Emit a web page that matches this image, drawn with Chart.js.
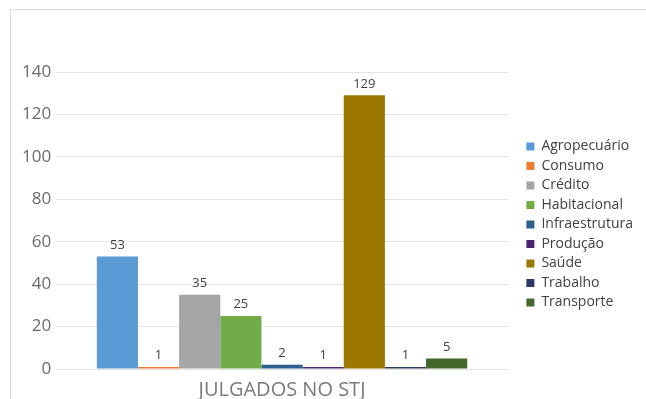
<!DOCTYPE html>
<html>
<head>
<meta charset="utf-8">
<script src="https://cdn.jsdelivr.net/npm/chart.js@4"></script>
<style>
  html, body { margin: 0; padding: 0; background: #fff; }
  body { width: 646px; height: 399px; overflow: hidden; position: relative; }
  .frame { position: absolute; left: 10px; top: 9px; width: 700px; height: 500px; border: 1px solid #dcdcdc; }
  .wrap { position: absolute; left: 0; top: 0; width: 646px; height: 399px; }
</style>
</head>
<body>
<div class="frame"></div>
<div class="wrap"><canvas id="myChart" width="646" height="399"></canvas></div>
<script>
const category = ["JULGADOS NO STJ"];
const seriesNames = ["Agropecuário", "Consumo", "Crédito", "Habitacional", "Infraestrutura", "Produção", "Saúde", "Trabalho", "Transporte"];
const seriesValues = [53, 1, 35, 25, 2, 1, 129, 1, 5];
const seriesColors = ["#5b9bd5", "#ed7d31", "#a5a5a5", "#70ad47", "#2a5f8f", "#4b2470", "#9c7800", "#2b3a66", "#43682b"];
const yTicks = [0, 20, 40, 60, 80, 100, 120, 140];

// value labels drawn above each bar
const valueLabels = {
  id: "valueLabels",
  afterDatasetsDraw(chart) {
    let ctx = chart.ctx;
    ctx.save();
    ctx.font = "13px 'Open Sans'";
    ctx.fillStyle = "#404040";
    ctx.textAlign = "center";
    ctx.textBaseline = "bottom";
    chart.data.datasets.forEach((ds, i) => {
      let bar = chart.getDatasetMeta(i).data[0];
      ctx.fillText(ds.data[0], bar.x, bar.y - 5);
    });
    ctx.restore();
  }
};

// nudge the legend box a bit up and to the right
const legendShift = {
  id: "legendShift",
  afterLayout(chart) {
    let lg = chart.legend;
    lg.top -= 13; lg.bottom -= 13;
    lg.left += 13; lg.right += 13;
  }
};

let datasets = seriesNames.map((name, i) => ({
  label: name,
  data: [seriesValues[i]],
  backgroundColor: seriesColors[i],
  borderWidth: 0
}));

let ctx = document.getElementById("myChart").getContext("2d");
let chart = new Chart(ctx, {
  type: "bar",
  data: { labels: category, datasets: datasets },
  plugins: [valueLabels, legendShift],
  options: {
    responsive: false,
    animation: false,
    devicePixelRatio: 1,
    layout: { padding: { left: 17, top: 72, right: 16, bottom: -4 } },
    categoryPercentage: 0.82,
    barPercentage: 1,
    plugins: {
      tooltip: { enabled: false },
      legend: {
        position: "right",
        labels: {
          boxWidth: 8,
          boxHeight: 8,
          padding: 5.5,
          color: "#404040",
          font: { family: "'Open Sans'", size: 14 }
        }
      }
    },
    scales: {
      x: {
        grid: { display: false },
        border: { display: false },
        ticks: { color: "#7a7a7a", padding: 1, font: { family: "'Open Sans'", size: 20 } }
      },
      y: {
        min: 0,
        max: 140,
        afterBuildTicks: (axis) => { axis.ticks = yTicks.map((v) => ({ value: v })); },
        grid: { color: "#e3e3e3", drawTicks: false },
        border: { display: false },
        ticks: { color: "#6a6a6a", padding: 5, font: { family: "'Open Sans'", size: 17 } }
      }
    }
  }
});
</script>
</body>
</html>
